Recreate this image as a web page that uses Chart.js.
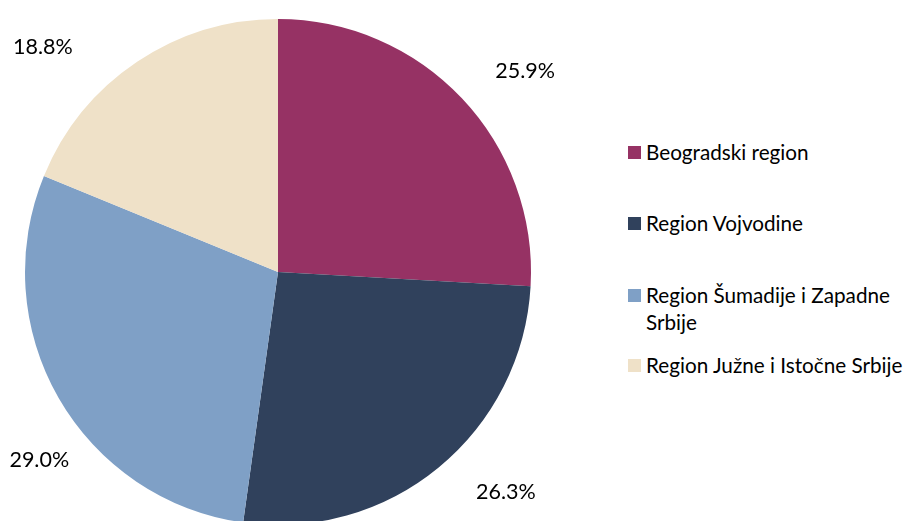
<!DOCTYPE html>
<html>
<head>
<meta charset="utf-8">
<script src="https://cdn.jsdelivr.net/npm/chart.js@4.4.1/dist/chart.umd.min.js"></script>
<style>
  html, body { margin: 0; padding: 0; background: #fff; width: 906px; height: 521px; overflow: hidden; }
  #wrap { position: relative; width: 906px; height: 521px; }
  #pie { position: absolute; left: 0; top: 0; }
  #legend { position: absolute; left: 628px; top: 139px; font-family: Lato, "Liberation Sans", sans-serif;
            font-size: 20.7px; color: #000; line-height: 27px; }
  .item { display: flex; align-items: flex-start; width: 278px; }
  .box { width: 13px; height: 13px; flex-shrink: 0; margin: 7px 5px 0 0; }
  .item:nth-child(1) { margin-bottom: 44px; }
  .item:nth-child(2) { margin-bottom: 45px; }
  .item:nth-child(3) { margin-bottom: 16px; }
</style>
</head>
<body>
<div id="wrap">
  <canvas id="pie" width="556" height="544"></canvas>
  <div id="legend"></div>
</div>
<script>
// Udeo regiona (%)
const regions = ["Beogradski region", "Region Vojvodine", "Region Šumadije i Zapadne Srbije", "Region Južne i Istočne Srbije"];
const shares  = [25.9, 26.3, 29.0, 18.8];
const colors  = ["#963264", "#30415C", "#7FA0C6", "#EFE1C8"];

// Ručno pomeranje oznaka (kao u originalu)
const labelNudge = [[16, 17], [26, -26], [37, 30], [-58, 39]];

const pctLabels = {
  id: "pctLabels",
  afterDatasetsDraw(chart) {
    const { ctx } = chart;
    const meta = chart.getDatasetMeta(0);
    ctx.save();
    ctx.font = "21.5px Lato, 'Liberation Sans', sans-serif";
    ctx.fillStyle = "#000";
    ctx.textAlign = "center";
    ctx.textBaseline = "middle";
    meta.data.forEach((arc, i) => {
      const { x, y, startAngle, endAngle, outerRadius } = arc.getProps(["x", "y", "startAngle", "endAngle", "outerRadius"], true);
      const mid = (startAngle + endAngle) / 2;
      const r = outerRadius + 65;
      const n = labelNudge[i] || [0, 0];
      ctx.fillText(shares[i].toFixed(1) + "%", x + Math.cos(mid) * r + n[0], y + Math.sin(mid) * r + n[1]);
    });
    ctx.restore();
  }
};

new Chart(document.getElementById("pie"), {
  type: "pie",
  data: {
    labels: regions,
    datasets: [{
      data: shares,
      backgroundColor: colors,
      borderWidth: 0,
      hoverOffset: 0,
    }],
  },
  options: {
    responsive: false,
    animation: false,
    layout: { padding: { left: 25, right: 25, top: 19, bottom: 19 } },
    plugins: {
      legend: { display: false },
      tooltip: { enabled: false },
    },
  },
  plugins: [pctLabels],
});

// Legenda (HTML zbog prelamanja teksta)
document.getElementById("legend").innerHTML = regions.map((r, i) =>
  `<div class="item"><span class="box" style="background:${colors[i]}"></span><span>${r}</span></div>`
).join("");
</script>
</body>
</html>
